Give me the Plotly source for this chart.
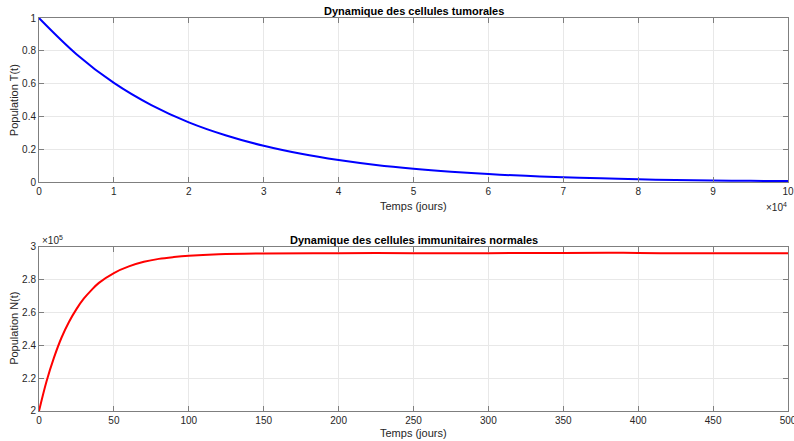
import plotly.graph_objects as go
from plotly.subplots import make_subplots

# Tumor cells T(t), time in days
t_tumor = [0, 5000, 10000, 15000, 20000, 25000, 30000, 35000, 40000, 45000, 50000,
           55000, 60000, 65000, 70000, 75000, 80000, 85000, 90000, 95000, 100000]
T_vals = [1.0, 0.78, 0.605, 0.47, 0.365, 0.285, 0.222, 0.173, 0.135, 0.105, 0.082,
          0.064, 0.050, 0.039, 0.030, 0.024, 0.018, 0.014, 0.011, 0.009, 0.007]

# Normal immune cells N(t)
t_immune = [0, 5, 10, 15, 20, 25, 30, 35, 40, 50, 60, 70, 80, 90, 100, 120, 150,
            200, 250, 300, 350, 380, 400, 430, 450, 500]
N_vals = [200000, 218000, 232500, 244600, 254200, 262000, 268500, 273600, 278000,
          284000, 288000, 290800, 292600, 293700, 294500, 295400, 295900, 296100,
          296100, 296100, 296200, 296300, 296200, 296000, 296000, 296100]

top_xticks = [0, 10000, 20000, 30000, 40000, 50000, 60000, 70000, 80000, 90000, 100000]
top_xlabels = ["0", "1", "2", "3", "4", "5", "6", "7", "8", "9", "10"]
top_yticks = [0, 0.2, 0.4, 0.6, 0.8, 1]
top_ylabels = ["0", "0.2", "0.4", "0.6", "0.8", "1"]
bot_xticks = [0, 50, 100, 150, 200, 250, 300, 350, 400, 450, 500]
bot_yticks = [200000, 220000, 240000, 260000, 280000, 300000]
bot_ylabels = ["2", "2.2", "2.4", "2.6", "2.8", "3"]

FONT = "Liberation Sans, Arial, Helvetica, sans-serif"
TXT = "#262626"

fig = make_subplots(rows=2, cols=1)
fig.add_trace(go.Scatter(x=t_tumor, y=T_vals, mode="lines", line=dict(color="#0000ff", width=2, shape="spline"),
                         showlegend=False), row=1, col=1)
fig.add_trace(go.Scatter(x=t_immune, y=N_vals, mode="lines", line=dict(color="#ff0000", width=2, shape="spline"),
                         showlegend=False), row=2, col=1)

axis_common = dict(showline=True, linecolor="#7f7f7f", linewidth=1, mirror="allticks",
                   ticks="inside", ticklen=5, tickcolor="#7f7f7f", showgrid=True,
                   gridcolor="#e8e8e8", gridwidth=1, zeroline=False, automargin=False,
                   ticklabeloverflow="allow",
                   tickfont=dict(family=FONT, size=10, color=TXT))

fig.update_layout(
    width=794, height=441,
    margin=dict(l=39, r=6, t=18, b=30, autoexpand=False),
    paper_bgcolor="white", plot_bgcolor="white",
    font=dict(family=FONT, color=TXT),
    xaxis=dict(domain=[0, 1], range=[0, 100000], tickvals=top_xticks, ticktext=top_xlabels, **axis_common),
    yaxis=dict(domain=[0.582, 1], range=[0, 1], tickvals=top_yticks, ticktext=top_ylabels, **axis_common),
    xaxis2=dict(domain=[0, 1], range=[0, 500], tickvals=bot_xticks, **axis_common),
    yaxis2=dict(domain=[0, 0.418], range=[200000, 300000], tickvals=bot_yticks, ticktext=bot_ylabels,
                **axis_common),
)

def ann(text, x, y, size=11, color=TXT, angle=0, xanchor="center", yanchor="middle"):
    fig.add_annotation(text=text, xref="paper", yref="paper", x=x, y=y, showarrow=False,
                       textangle=angle, xanchor=xanchor, yanchor=yanchor,
                       font=dict(family=FONT, size=size, color=color))

H = 393.0  # plot paper height in px (441 - 18 - 30)
W = 749.0  # paper width px

def py(pix):
    return (411 - pix) / H

def px(pix):
    return (pix - 39) / W

ann("<b>Dynamique des cellules tumorales</b>", 0.5, py(11.5), size=11, color="black")
ann("<b>Dynamique des cellules immunitaires normales</b>", 0.5, py(240), size=11, color="black")
ann("Temps (jours)", 0.5, py(206), size=11)
ann("Temps (jours)", 0.5, py(433), size=11)
ann("Population T(t)", px(14), 0.791, size=11, angle=-90)
ann("Population N(t)", px(14), 0.209, size=11, angle=-90)
ann("×10<sup>4</sup>", px(789), py(207), size=10, xanchor="right")
ann("×10<sup>5</sup>", px(40), py(240), size=10, xanchor="left")

fig.write_html("out.html", config={"displayModeBar": False},
               post_script="document.body.style.margin='0';document.body.style.overflow='hidden';")
